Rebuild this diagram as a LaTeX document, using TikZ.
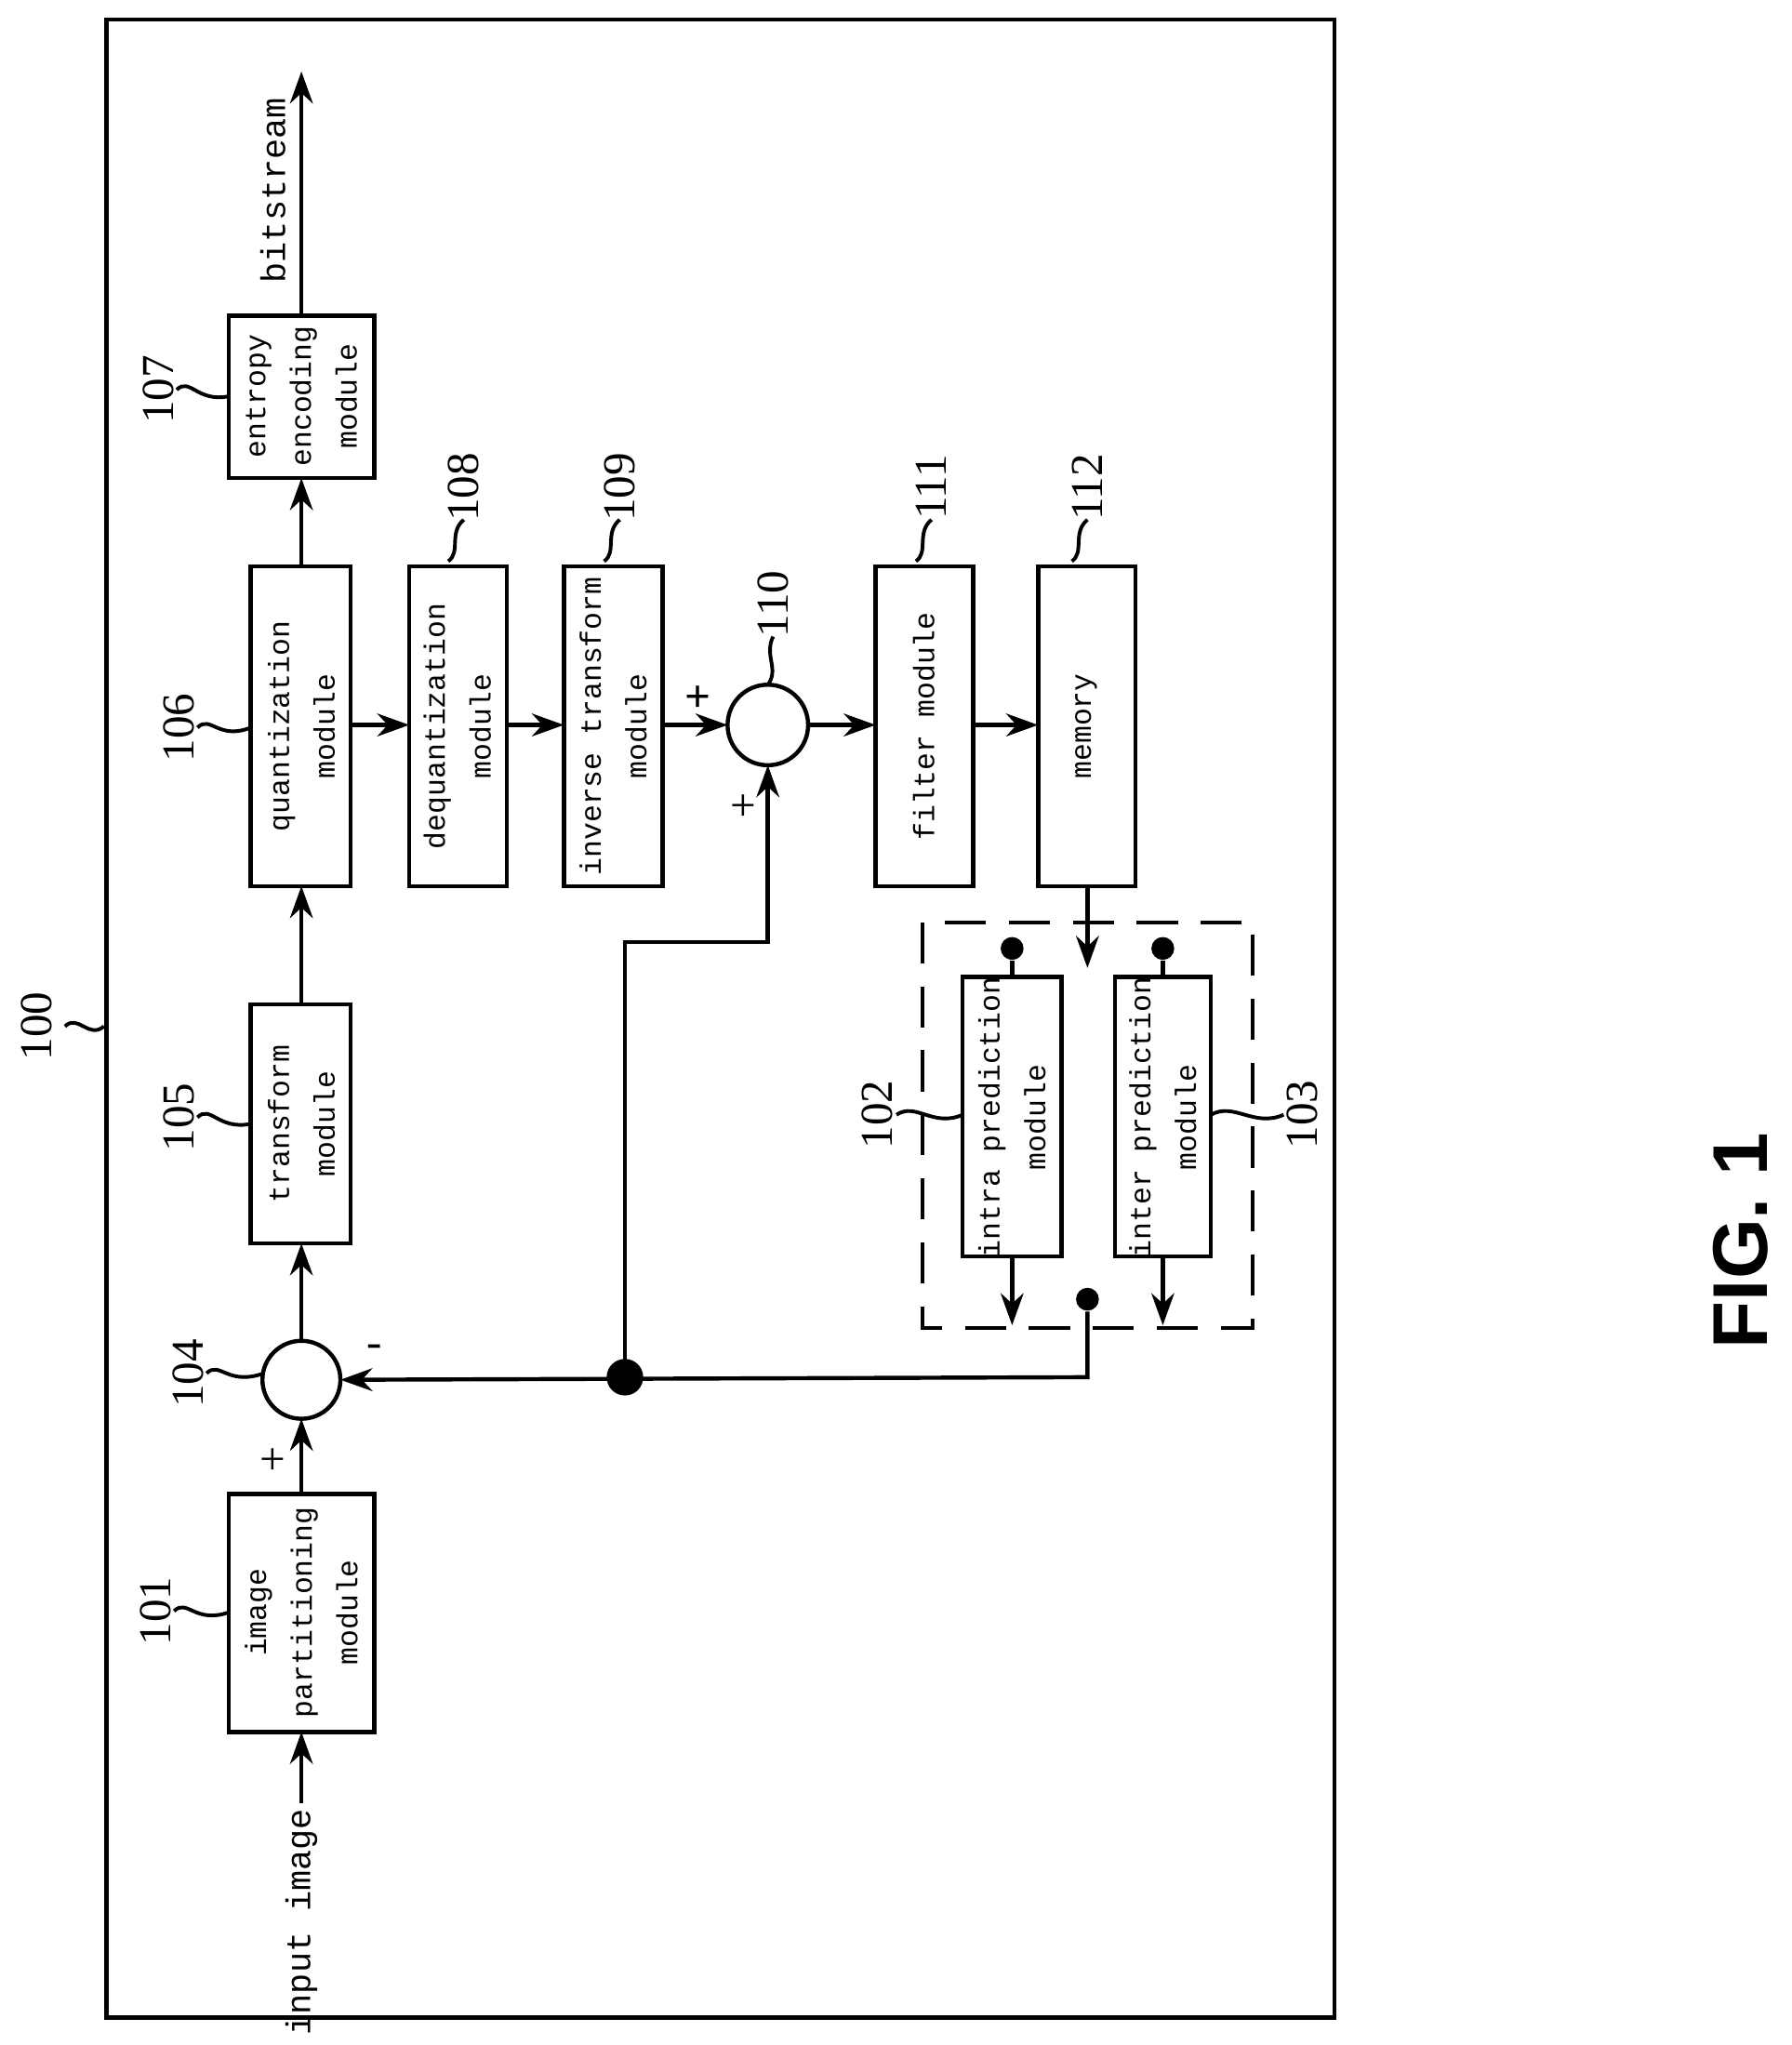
\documentclass[tikz,border=0pt]{standalone}
\usepackage{fontspec}
\setmainfont{Liberation Serif}
\setmonofont{Liberation Mono}
\setsansfont{Liberation Sans}
\usetikzlibrary{arrows.meta}
\begin{document}
\begin{tikzpicture}[x=0.01cm,y=-0.01cm,
  box/.style={draw,line width=0.9pt,inner sep=0},
  txt/.style={rotate=90,align=center,inner sep=1pt,font=\ttfamily\fontsize{6.4}{10}\selectfont},
  num/.style={rotate=90,font=\fontsize{10}{12}\selectfont},
  ar/.style={line width=0.9pt,-{Stealth[length=7pt,width=5pt]}},
  ln/.style={line width=0.9pt},
  dot/.style={circle,fill,inner sep=0,minimum size=5pt}]
\useasboundingbox (0,0) rectangle (1379,1574);
\draw[line width=0.9pt] (82,15) rectangle (1027,1553);
\node[num] (n100) at (28,790) {100};
\draw[line width=0.8pt] (50,790) .. controls (60,780) and (68,800) .. (80,790);
% boxes
\draw[box] (176,1150) rectangle (288,1333); \node[txt] (b101) at (232,1241) {image\\partitioning\\module};
\draw[box] (193,773) rectangle (270,957); \node[txt] (b105) at (232,865) {transform\\module};
\draw[box] (193,436) rectangle (270,682); \node[txt] (b106) at (232,559) {quantization\\module};
\draw[box] (176,243) rectangle (288,368); \node[txt] (b107) at (232,305) {entropy\\encoding\\module};
\draw[box] (315,436) rectangle (390,682); \node[txt] (b108) at (352,559) {dequantization\\module};
\draw[box] (434,436) rectangle (510,682); \node[txt] (b109) at (472,559) {inverse transform\\module};
\draw[box] (674,436) rectangle (749,682); \node[txt] (b111) at (711,559) {filter module};
\draw[box] (799,436) rectangle (874,682); \node[txt] (b112) at (836,559) {memory};
\draw[box] (741,752) rectangle (817,967); \node[txt] (b102) at (779,860) {intra prediction\\module};
\draw[box] (858,752) rectangle (932,967); \node[txt] (b103) at (895,860) {inter prediction\\module};
\draw[line width=0.9pt,dash pattern=on 9pt off 5pt] (710,710) rectangle (964,1022);
\draw[ln] (232,1062) circle (30);
\draw[ln] (591,558) circle (31);
% numbers
\foreach \n/\x/\y/\tx/\ty in {101/120/1240/176/1241, 104/145/1057/203/1057, 105/138/860/193/865, 106/138/560/193/560, 107/122/300/176/305}{
  \node[num] at (\x,\y) {\n};
  \draw[line width=0.8pt] (\x+14,\y) .. controls (\x+24,\y-10) and (\x+30,\y+10) .. (\tx,\ty);}
\node[num] at (357,375) {108}; \draw[line width=0.8pt] (345,432) .. controls (355,425) and (345,410) .. (357,400);
\node[num] at (477,375) {109}; \draw[line width=0.8pt] (465,432) .. controls (475,425) and (465,410) .. (477,400);
\node[num] at (595,465) {110}; \draw[line width=0.8pt] (591,527) .. controls (600,515) and (588,505) .. (595,490);
\node[num] at (717,375) {111}; \draw[line width=0.8pt] (705,432) .. controls (715,425) and (705,410) .. (717,400);
\node[num] at (837,375) {112}; \draw[line width=0.8pt] (825,432) .. controls (835,425) and (825,410) .. (837,400);
\node[num] at (675,858) {102}; \draw[line width=0.8pt] (690,858) .. controls (705,848) and (718,868) .. (741,858);
\node[num] at (1002,858) {103}; \draw[line width=0.8pt] (932,858) .. controls (950,848) and (965,868) .. (988,858);
% texts
\node[txt,anchor=east,font=\ttfamily\fontsize{7.5}{10}\selectfont] (inp) at (232,1388) {input image};
\node[txt,anchor=west,font=\ttfamily\fontsize{7.5}{10}\selectfont] (bits) at (210,222) {bitstream};
\node (p1) at (210,1125) {+}; \node (m1) at (288,1040) {-};
\node (p2) at (537,538) {\textbf{+}}; \node (p3) at (572,622) {+};
% arrows
\draw[ar] (inp.east) -- (232,1333);
\draw[ar] (232,1150) -- (232,1092);
\draw[ar] (232,1032) -- (232,957);
\draw[ar] (232,773) -- (232,682);
\draw[ar] (232,436) -- (232,368);
\draw[ar] (232,243) -- (232,55);
\draw[ar] (270,558) -- (315,558);
\draw[ar] (390,558) -- (434,558);
\draw[ar] (510,558) -- (560,558);
\draw[ar] (622,558) -- (674,558);
\draw[ar] (749,558) -- (799,558);
\draw[ar] (837,682) -- (837,745);
\node[dot] (d1) at (779,730) {}; \draw[ln] (d1) -- (779,752);
\node[dot] (d2) at (895,730) {}; \draw[ln] (d2) -- (895,752);
\draw[ar] (779,967) -- (779,1020);
\draw[ar] (895,967) -- (895,1020);
\node[dot] (d3) at (837,1000) {};
\node[dot,minimum size=8pt] (d4) at (481,1060) {};
\draw[ar] (d3) -- (837,1060) -- (262,1062);
\draw[ar] (d4.center) -- (481,725) -- (591,725) -- (591,589);
\node[rotate=90,font=\sffamily\bfseries\fontsize{17}{20}\selectfont] (fig) at (1340,955) {FIG. 1};
\end{tikzpicture}
\end{document}
